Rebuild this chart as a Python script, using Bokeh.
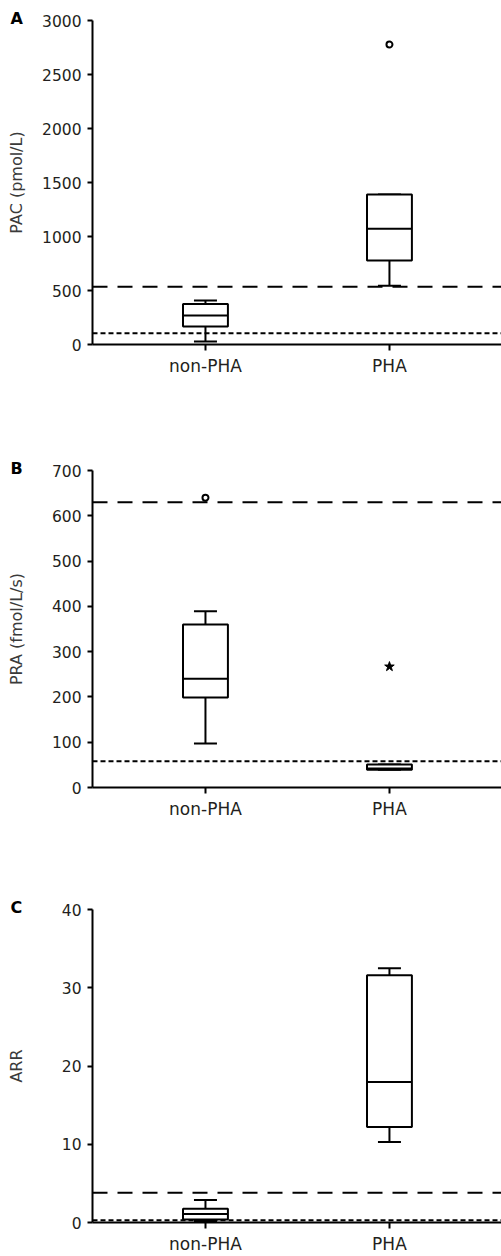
from bokeh.plotting import figure
from bokeh.models import Range1d, FixedTicker, SingleIntervalTicker, Span
from bokeh.layouts import column
from bokeh.embed import file_html
from bokeh.resources import INLINE

cats = ["non-PHA", "PHA"]

# Panel A: PAC (pmol/L)
pac_low = [28, 543]
pac_q1 = [167, 778]
pac_med = [268, 1071]
pac_q3 = [376, 1389]
pac_high = [407, 1389]
pac_out_cat = ["PHA"]
pac_out_val = [2778]
pac_out_marker = ["circle"]
pac_dashed = 535
pac_dotted = 105

# Panel B: PRA (fmol/L/s)
pra_low = [97, 39]
pra_q1 = [199, 39]
pra_med = [240, 42]
pra_q3 = [360, 51]
pra_high = [389, 51]
pra_out_cat = ["non-PHA", "PHA"]
pra_out_val = [640, 267]
pra_out_marker = ["circle", "star"]
pra_dashed = 630
pra_dotted = 58

# Panel C: ARR
arr_low = [0.2, 10.3]
arr_q1 = [0.38, 12.2]
arr_med = [1.1, 17.96]
arr_q3 = [1.77, 31.6]
arr_high = [2.87, 32.5]
arr_out_cat = []
arr_out_val = []
arr_out_marker = []
arr_dashed = 3.8
arr_dotted = 0.3

FONT = "DejaVu Sans"
TXT = "#231f20"
X0, X1 = 0.386, 2.609
HALF = 0.122
CAP = 0.0625


def panel(letter, ylabel, yend, step, low, q1, med, q3, high, ocat, oval, omark,
          dashed, dotted, height, top, bottom, lab_standoff):
    p = figure(width=501, height=height, output_backend="svg", toolbar_location=None,
               x_range=Range1d(X0, X1), y_range=Range1d(0, yend),
               min_border_left=92, min_border_right=0, min_border_top=top,
               min_border_bottom=bottom, title=letter)
    p.outline_line_color = None
    p.grid.grid_line_color = None
    p.background_fill_color = "white"
    p.border_fill_color = "white"

    p.title.align = "left"
    p.title.offset = -82
    p.title.standoff = -14
    p.title.text_font = FONT
    p.title.text_font_style = "bold"
    p.title.text_font_size = "16px"
    p.title.text_color = "black"

    xs = [i + 1 for i in range(len(cats))]
    # whiskers
    p.segment(x0=xs, x1=xs, y0=q3, y1=high, line_color="black", line_width=2)
    p.segment(x0=xs, x1=xs, y0=q1, y1=low, line_color="black", line_width=2)
    p.segment(x0=[x - CAP for x in xs], x1=[x + CAP for x in xs], y0=high, y1=high,
              line_color="black", line_width=2)
    p.segment(x0=[x - CAP for x in xs], x1=[x + CAP for x in xs], y0=low, y1=low,
              line_color="black", line_width=2)
    # boxes
    p.quad(left=[x - HALF for x in xs], right=[x + HALF for x in xs], bottom=q1, top=q3,
           fill_color="white", line_color="black", line_width=2)
    p.segment(x0=[x - HALF for x in xs], x1=[x + HALF for x in xs], y0=med, y1=med,
              line_color="black", line_width=2)
    # outliers
    for c, v, m in zip(ocat, oval, omark):
        x = cats.index(c) + 1
        if m == "circle":
            p.scatter([x], [v], marker="circle", size=6, fill_color="white",
                      line_color="black", line_width=2)
        else:
            p.scatter([x], [v], marker="star", size=10, fill_color="black",
                      line_color="black", line_width=1)

    p.add_layout(Span(location=dashed, dimension="width", line_color="black",
                      line_width=2, line_dash="15 10"))
    p.add_layout(Span(location=dotted, dimension="width", line_color="black",
                      line_width=2, line_dash="5 3"))

    xa = p.xaxis[0]
    xa.ticker = FixedTicker(ticks=xs)
    xa.major_label_overrides = {x: c for x, c in zip(xs, cats)}
    xa.axis_line_width = 2
    xa.major_tick_line_width = 2
    xa.major_tick_out = 6
    xa.major_tick_in = 0
    xa.minor_tick_line_color = None
    xa.major_label_text_font = FONT
    xa.major_label_text_font_size = "17px"
    xa.major_label_text_color = TXT
    xa.major_label_standoff = 5

    ya = p.yaxis[0]
    ya.ticker = SingleIntervalTicker(interval=step, num_minor_ticks=0)
    ya.axis_line_width = 2
    ya.major_tick_line_width = 2
    ya.major_tick_out = 5
    ya.major_tick_in = 0
    ya.minor_tick_line_color = None
    ya.major_label_text_font = FONT
    ya.major_label_text_font_size = "15.5px"
    ya.major_label_text_color = TXT
    ya.major_label_standoff = 6
    ya.axis_label = ylabel
    ya.axis_label_text_font = FONT
    ya.axis_label_text_font_size = "16px"
    ya.axis_label_text_font_style = "normal"
    ya.axis_label_text_color = "#3a3a3a"
    ya.axis_label_standoff = lab_standoff
    return p


pa = panel("A", "PAC (pmol/L)", 3000, 500, pac_low, pac_q1, pac_med, pac_q3, pac_high,
           pac_out_cat, pac_out_val, pac_out_marker, pac_dashed, pac_dotted,
           440, 20, 96, 13)
pb = panel("B", "PRA (fmol/L/s)", 700, 100, pra_low, pra_q1, pra_med, pra_q3, pra_high,
           pra_out_cat, pra_out_val, pra_out_marker, pra_dashed, pra_dotted,
           440, 30, 93, 23)
pc = panel("C", "ARR", 40, 10, arr_low, arr_q1, arr_med, arr_q3, arr_high,
           arr_out_cat, arr_out_val, arr_out_marker, arr_dashed, arr_dotted,
           376, 29, 31, 33)

layout = column(pa, pb, pc, spacing=0)
open("out.html", "w").write(file_html(layout, INLINE))
